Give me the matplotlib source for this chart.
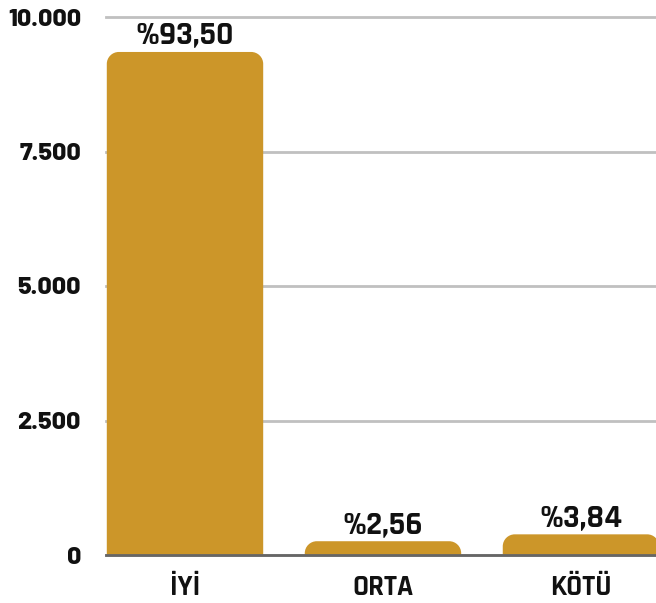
import matplotlib
matplotlib.use("Agg")
import matplotlib.pyplot as plt
from matplotlib.path import Path
from matplotlib.patches import PathPatch
import numpy as np

categories = ["İYİ", "ORTA", "KÖTÜ"]
values = [9350, 256, 384]
pct_labels = ["%93,50", "%2,56", "%3,84"]
yticks = [0, 2500, 5000, 7500, 10000]
ytick_labels = ["0", "2.500", "5.000", "7.500", "10.000"]

BAR_COLOR = "#CC9629"
LABEL_FONT = ["Rajdhani", "DejaVu Sans"]
TICK_FONT = ["Barlow", "DejaVu Sans"]
plt.rcParams['font.family'] = LABEL_FONT

W, H = 656, 603
fig = plt.figure(figsize=(W / 100, H / 100), dpi=100)
ax = fig.add_axes([106 / W, (H - 555) / H, 1 - 106 / W, (555 - 17) / H])

x = np.arange(len(categories))
bars = ax.bar(x, values, width=0.79, color=BAR_COLOR, zorder=3)
ax.set_xlim(-0.399, 2.379)
ax.set_ylim(0, 10000)

# replace rectangles with rounded-top bars
fig.canvas.draw()
inv = ax.transData.inverted()
p0 = ax.transData.transform((0, 0))
r_px = 12
rx = abs(inv.transform((p0[0] + r_px, p0[1]))[0] - 0)
ry = abs(inv.transform((p0[0], p0[1] + r_px))[1] - 0)
k = 0.5523
for b in bars:
    x0, w, h = b.get_x(), b.get_width(), b.get_height()
    x1 = x0 + w
    ryy = min(ry, h)
    verts = [
        (x0, 0), (x0, h - ryy),
        (x0, h - ryy + k * ryy), (x0 + rx - k * rx, h), (x0 + rx, h),
        (x1 - rx, h),
        (x1 - rx + k * rx, h), (x1, h - ryy + k * ryy), (x1, h - ryy),
        (x1, 0), (x0, 0),
    ]
    codes = [Path.MOVETO, Path.LINETO,
             Path.CURVE4, Path.CURVE4, Path.CURVE4,
             Path.LINETO,
             Path.CURVE4, Path.CURVE4, Path.CURVE4,
             Path.LINETO, Path.CLOSEPOLY]
    b.set_visible(False)
    ax.add_patch(PathPatch(Path(verts, codes), facecolor=BAR_COLOR,
                           edgecolor="none", zorder=3))

for xi, v, lab in zip(x, values, pct_labels):
    ax.annotate(lab, (xi, v), xytext=(0, 5.5), textcoords="offset points",
                ha="center", va="baseline", fontsize=23.5, fontweight="bold",
                family=LABEL_FONT, color="#111111", clip_on=False)

ax.set_yticks(yticks)
ax.set_yticklabels(ytick_labels)
ax.set_xticks(x)
ax.set_xticklabels(categories)
ax.tick_params(axis="y", length=0, pad=18, labelsize=18)
ax.tick_params(axis="x", length=0, pad=13.5, labelsize=21)
for t in ax.get_yticklabels():
    t.set_fontweight(800)
    t.set_family(TICK_FONT)
    t.set_color("#111111")
for t in ax.get_xticklabels():
    t.set_fontweight("bold")
    t.set_family(LABEL_FONT)
    t.set_color("#111111")

ax.grid(axis="y", color="#c0c0c0", linewidth=2, zorder=0)
for gl in ax.get_ygridlines():
    gl.set_clip_on(False)
ax.set_axisbelow(True)
for s in ["top", "right", "left"]:
    ax.spines[s].set_visible(False)
ax.spines["bottom"].set_color("#666666")
ax.spines["bottom"].set_linewidth(2)
ax.spines["bottom"].set_zorder(4)

fig.savefig("out.png", dpi=100)
